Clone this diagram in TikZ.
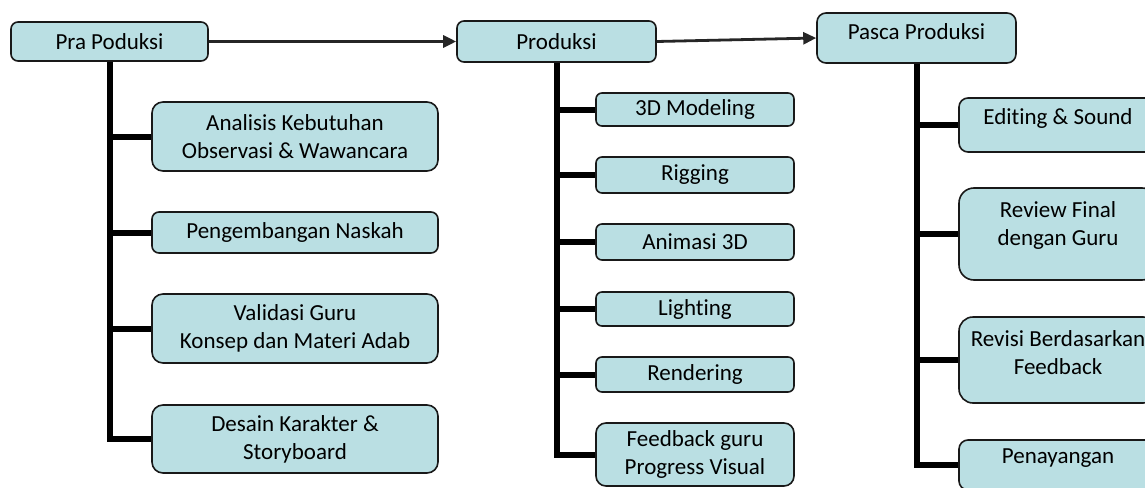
\documentclass[tikz,border=0pt]{standalone}
\usepackage{fontspec}
\setmainfont{Carlito}[Ligatures={NoCommon}]
\usetikzlibrary{arrows.meta}
\definecolor{boxfill}{RGB}{186,223,227}
\definecolor{arrowgray}{RGB}{38,38,38}
\tikzset{
  bx/.style={draw=black!90, line width=1.6pt, fill=boxfill, rounded corners=7pt,
    inner sep=0pt, align=center, font={\fontsize{23}{28}\selectfont}},
  txt/.style={inner sep=0pt, align=center, font={\fontsize{23}{28}\selectfont}},
  trunk/.style={draw=black, line width=6pt},
  flow/.style={draw=arrowgray, line width=2.8pt, -{Triangle[length=13pt,width=12pt]}}
}
\begin{document}
\begin{tikzpicture}[x=1pt,y=-1pt]
\useasboundingbox (0,0) rectangle (1145,487);
\clip (0,0) rectangle (1145,487);
% main stages
\node[bx, minimum width=197pt, minimum height=39pt] (pra) at (109.5,41.5) {Pra Poduksi};
\node[bx, minimum width=199pt, minimum height=41pt] (prod) at (556.5,41.5) {Produksi};
\node[bx, minimum width=199pt, minimum height=50pt, rounded corners=9pt] (pasca) at (916.5,38) {};
\node[txt] (pascat) at (916.5,32) {Pasca Produksi};
% pra produksi items
\node[bx, minimum width=286pt, minimum height=69pt, rounded corners=11pt] (analisis) at (295,136.5) {Analisis Kebutuhan\\Observasi \& Wawancara};
\node[bx, minimum width=286pt, minimum height=41pt] (naskah) at (295,232.5) {Pengembangan Naskah};
\node[bx, minimum width=286pt, minimum height=69pt, rounded corners=11pt] (validasi) at (295,328.5) {Validasi Guru\\Konsep dan Materi Adab};
\node[bx, minimum width=286pt, minimum height=68pt, rounded corners=11pt] (desain) at (295,439) {Desain Karakter \&\\Storyboard};
% produksi items
\node[bx, minimum width=198pt, minimum height=33pt, rounded corners=6pt] (modeling) at (695,109.5) {3D Modeling};
\node[bx, minimum width=198pt, minimum height=36pt, rounded corners=6pt] (rigging) at (695,175) {Rigging};
\node[bx, minimum width=198pt, minimum height=36pt, rounded corners=6pt] (animasi) at (695,242) {Animasi 3D};
\node[bx, minimum width=198pt, minimum height=34pt, rounded corners=6pt] (lighting) at (695,309) {Lighting};
\node[bx, minimum width=198pt, minimum height=35pt, rounded corners=6pt] (rendering) at (695,374.5) {Rendering};
\node[bx, minimum width=198pt, minimum height=63pt, rounded corners=10pt] (feedback) at (695,454.5) {Feedback guru\\Progress Visual};
% pasca produksi items
\node[bx, minimum width=198pt, minimum height=54pt, rounded corners=9pt] (editing) at (1058,125) {};
\node[txt] (editingt) at (1058,118) {Editing \& Sound};
\node[bx, minimum width=198pt, minimum height=92pt, rounded corners=15pt] (review) at (1058,234) {};
\node[txt] (reviewt) at (1058,225) {Review Final\\dengan Guru};
\node[bx, minimum width=198pt, minimum height=86pt, rounded corners=14pt] (revisi) at (1058,360) {};
\node[txt] (revisit) at (1058,352.5) {Revisi Berdasarkan\\Feedback};
\node[bx, minimum width=198pt, minimum height=50pt, rounded corners=9pt] (tayang) at (1058,465) {};
\node[txt] (tayangt) at (1058,458) {Penayangan};
% flow arrows
\draw[flow] (pra.east) -- (prod.west);
\draw[flow] (prod.east) -- (pasca.west);
% trunks
\draw[trunk] (pra.south) |- (desain.west);
\draw[trunk] (pra.south |- analisis.west) -- (analisis.west);
\draw[trunk] (pra.south |- naskah.west) -- (naskah.west);
\draw[trunk] (pra.south |- validasi.west) -- (validasi.west);
\draw[trunk] (prod.south) |- (feedback.west);
\draw[trunk] (prod.south |- modeling.west) -- (modeling.west);
\draw[trunk] (prod.south |- rigging.west) -- (rigging.west);
\draw[trunk] (prod.south |- animasi.west) -- (animasi.west);
\draw[trunk] (prod.south |- lighting.west) -- (lighting.west);
\draw[trunk] (prod.south |- rendering.west) -- (rendering.west);
\draw[trunk] (pasca.south) |- (tayang.west);
\draw[trunk] (pasca.south |- editing.west) -- (editing.west);
\draw[trunk] (pasca.south |- review.west) -- (review.west);
\draw[trunk] (pasca.south |- revisi.west) -- (revisi.west);
\end{tikzpicture}
\end{document}
